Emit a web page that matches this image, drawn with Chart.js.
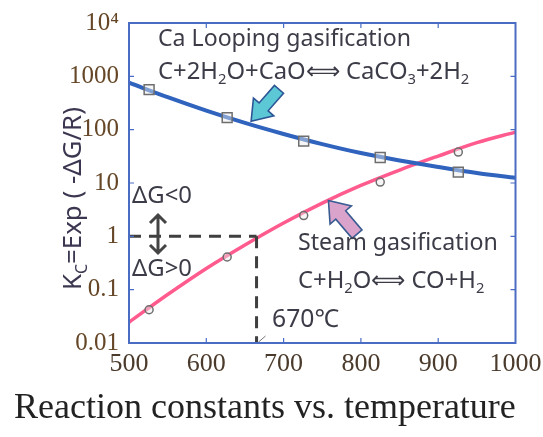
<!DOCTYPE html>
<html>
<head>
<meta charset="utf-8">
<script src="https://cdn.jsdelivr.net/npm/chart.js@4.4.1/dist/chart.umd.min.js"></script>
<style>
  html, body { margin: 0; padding: 0; background: #fff; }
  #wrap { width: 543px; height: 437px; }
</style>
</head>
<body>
<div id="wrap"><canvas id="kc-chart" width="543" height="437"></canvas></div>
<script>
// Temperatures (°C) for the smooth curves
const curveTemps = [500, 550, 600, 650, 700, 750, 800, 850, 900, 950, 1000];
// Ca looping gasification curve, C+2H2O+CaO <-> CaCO3+2H2
const caLoopingCurve = [762, 407, 228, 134, 83, 53.5, 36.4, 26.5, 20, 15.4, 12.5];
// Steam gasification curve, C+H2O <-> CO+H2
const steamCurve = [0.0245, 0.081, 0.25, 0.69, 1.78, 4.2, 9.0, 17.5, 32, 57, 90];

// Calculated points (markers)
const markerTemps = [526, 627, 726, 825, 926];
const caLoopingPoints = [564, 168, 61, 30, 16];
const steamPoints = [0.042, 0.41, 2.45, 10.4, 38];

const xTickValues = [500, 600, 700, 800, 900, 1000];
const yTickValues = [0.01, 0.1, 1, 10, 100, 1000, 10000];

// Equilibrium threshold K = 1 reached at ~670 °C
const thresholdTemp = 665;
const thresholdK = 1;

const toPoints = (xs, ys) => xs.map((x, i) => ({ x, y: ys[i] }));

const FRAME = "#4a6cc2";
const TEXT = "#3c3c48";
const SANS = "'Noto Sans', sans-serif";
const SERIF = "'Liberation Serif', 'Times New Roman', serif";

// Text with subscripts, scaled so that it spans `width` pixels.
function drawRich(ctx, parts, x, baseline, width, family, color) {
  const measure = (size) =>
    parts.reduce((w, p) => {
      ctx.font = `${p.sub ? size * 0.62 : size}px ${family}`;
      return w + ctx.measureText(p.t).width;
    }, 0);
  const size = (20 * width) / measure(20);
  ctx.fillStyle = color;
  ctx.textBaseline = "alphabetic";
  ctx.textAlign = "left";
  let cx = x;
  parts.forEach((p) => {
    const s = p.sub ? size * 0.62 : size;
    ctx.font = `${s}px ${family}`;
    ctx.fillText(p.t, cx, baseline + (p.sub ? size * 0.22 : 0));
    cx += ctx.measureText(p.t).width;
  });
}

function blockArrow(ctx, tip, tail, shaftW, headW, headL, fill, stroke) {
  const angle = Math.atan2(tip[1] - tail[1], tip[0] - tail[0]);
  const len = Math.hypot(tip[0] - tail[0], tip[1] - tail[1]);
  ctx.save();
  ctx.translate(tip[0], tip[1]);
  ctx.rotate(angle);
  ctx.beginPath();
  ctx.moveTo(0, 0);
  ctx.lineTo(-headL, -headW / 2);
  ctx.lineTo(-headL, -shaftW / 2);
  ctx.lineTo(-len, -shaftW / 2);
  ctx.lineTo(-len, shaftW / 2);
  ctx.lineTo(-headL, shaftW / 2);
  ctx.lineTo(-headL, headW / 2);
  ctx.closePath();
  ctx.fillStyle = fill;
  ctx.fill();
  ctx.lineWidth = 1.6;
  ctx.strokeStyle = stroke;
  ctx.lineJoin = "miter";
  ctx.stroke();
  ctx.restore();
}

const decorations = {
  id: "decorations",
  afterDraw(chart) {
    const { ctx, chartArea: a } = chart;
    const xs = chart.scales.x;
    const ys = chart.scales.y;
    ctx.save();

    // threshold dashed lines
    const tx = xs.getPixelForValue(thresholdTemp);
    const ty = ys.getPixelForValue(thresholdK);
    ctx.strokeStyle = "#3f3f3f";
    ctx.lineWidth = 3;
    ctx.setLineDash([12, 8]);
    ctx.beginPath();
    ctx.moveTo(a.left, ty);
    ctx.lineTo(tx, ty);
    ctx.moveTo(tx, ty);
    ctx.lineTo(tx, a.bottom);
    ctx.stroke();
    ctx.setLineDash([]);

    // small mark at the foot of the threshold line
    ctx.lineWidth = 1;
    ctx.strokeStyle = "#777";
    ctx.beginPath();
    ctx.moveTo(tx + 2, a.bottom - 1);
    ctx.lineTo(tx + 9, a.bottom - 7);
    ctx.stroke();

    // frame
    ctx.strokeStyle = FRAME;
    ctx.lineWidth = 2;
    ctx.strokeRect(a.left, a.top, a.width, a.height);

    // inward ticks
    ctx.lineWidth = 1.2;
    ctx.beginPath();
    yTickValues.slice(1, -1).forEach((v) => {
      const py = ys.getPixelForValue(v);
      ctx.moveTo(a.left, py);
      ctx.lineTo(a.left + 5, py);
      ctx.moveTo(a.right, py);
      ctx.lineTo(a.right - 5, py);
    });
    xTickValues.slice(1, -1).forEach((v) => {
      const px = xs.getPixelForValue(v);
      ctx.moveTo(px, a.bottom);
      ctx.lineTo(px, a.bottom - 5);
      ctx.moveTo(px, a.top);
      ctx.lineTo(px, a.top + 5);
    });
    ctx.stroke();

    // block arrows pointing at the curves
    const px = (t, k) => [xs.getPixelForValue(t), ys.getPixelForValue(k)];
    blockArrow(ctx, px(658, 144), px(694, 571), 12, 27, 19, "#5cc8d6", "#2d5596");
    blockArrow(ctx, px(758, 4.7), px(795, 1.1), 13, 28, 19, "#d9a3cc", "#3a5c92");

    // annotations
    drawRich(ctx, [{ t: "Ca Looping gasification" }], 158, 46, 253, SANS, TEXT);
    drawRich(ctx, [
      { t: "C+2H" }, { t: "2", sub: true }, { t: "O+CaO\u27FA CaCO" },
      { t: "3", sub: true }, { t: "+2H" }, { t: "2", sub: true }
    ], 158, 79, 312, SANS, TEXT);
    drawRich(ctx, [{ t: "Steam gasification" }], 298, 250, 200, SANS, TEXT);
    drawRich(ctx, [
      { t: "C+H" }, { t: "2", sub: true }, { t: "O\u27FA CO+H" }, { t: "2", sub: true }
    ], 298, 288, 187, SANS, TEXT);
    drawRich(ctx, [{ t: "670\u2103" }], 272, 327, 67, SANS, TEXT);
    drawRich(ctx, [{ t: "\u0394G<0" }], 132, 203, 60, SANS, TEXT);
    drawRich(ctx, [{ t: "\u0394G>0" }], 132, 276, 60, SANS, TEXT);

    // double-headed arrow between ΔG<0 and ΔG>0
    ctx.strokeStyle = "#444";
    ctx.lineWidth = 3;
    ctx.beginPath();
    ctx.moveTo(158, 215);
    ctx.lineTo(158, 253);
    ctx.moveTo(150, 223);
    ctx.lineTo(158, 215);
    ctx.lineTo(166, 223);
    ctx.moveTo(150, 245);
    ctx.lineTo(158, 253);
    ctx.lineTo(166, 245);
    ctx.stroke();

    // y axis title, rotated
    ctx.save();
    ctx.translate(81, 290);
    ctx.rotate(-Math.PI / 2);
    drawRich(ctx, [{ t: "K" }, { t: "C", sub: true }, { t: "=Exp ( -\u0394G/R)" }],
      0, 0, 183, SANS, "#3c3650");
    ctx.restore();

    // caption
    drawRich(ctx, [{ t: "Reaction constants vs. temperature" }], 14, 418, 502, SERIF, "#222");

    ctx.restore();
  }
};

new Chart(document.getElementById("kc-chart"), {
  type: "line",
  data: {
    datasets: [
      {
        label: "Ca looping points",
        data: toPoints(markerTemps, caLoopingPoints),
        showLine: false,
        pointStyle: "rect",
        pointRadius: 7,
        pointBorderWidth: 1.5,
        pointBorderColor: "#6e6e6e",
        pointBackgroundColor: "rgba(235,235,235,0.45)",
        order: 0
      },
      {
        label: "Steam points",
        data: toPoints(markerTemps, steamPoints),
        showLine: false,
        pointStyle: "circle",
        pointRadius: 4,
        pointBorderWidth: 1.5,
        pointBorderColor: "#6e6e6e",
        pointBackgroundColor: "rgba(235,235,235,0.45)",
        order: 0
      },
      {
        label: "Ca looping gasification",
        data: toPoints(curveTemps, caLoopingCurve),
        borderColor: "#2f63bd",
        borderWidth: 4,
        pointRadius: 0,
        cubicInterpolationMode: "monotone",
        order: 1
      },
      {
        label: "Steam gasification",
        data: toPoints(curveTemps, steamCurve),
        borderColor: "#ff5b8e",
        borderWidth: 3.5,
        pointRadius: 0,
        cubicInterpolationMode: "monotone",
        order: 1
      }
    ]
  },
  options: {
    responsive: false,
    animation: false,
    layout: { padding: { left: 0, right: 27.5, top: 23, bottom: 0 } },
    plugins: {
      legend: { display: false },
      tooltip: { enabled: false }
    },
    scales: {
      x: {
        type: "linear",
        min: 500,
        max: 1000,
        afterBuildTicks: (scale) => {
          scale.ticks = xTickValues.map((value) => ({ value }));
        },
        afterFit: (scale) => {
          scale.height = 94;
          // let the last label overhang the plot instead of shrinking it
          scale.paddingLeft = 0;
          scale.paddingRight = 0;
        },
        grid: { display: false, drawTicks: false },
        border: { display: false },
        ticks: {
          padding: 6,
          color: "#4b3b2c",
          font: { family: SERIF, size: 26 },
          callback: (value) => String(value)
        }
      },
      y: {
        type: "logarithmic",
        min: 0.01,
        max: 10000,
        afterBuildTicks: (scale) => {
          scale.ticks = yTickValues.map((value) => ({ value }));
        },
        afterFit: (scale) => {
          scale.width = 129;
          scale.paddingTop = 0;
          scale.paddingBottom = 0;
        },
        grid: { display: false, drawTicks: false },
        border: { display: false },
        ticks: {
          padding: 10,
          color: "#654728",
          font: { family: SERIF, size: 25 },
          callback: (value) => (value === 10000 ? "10\u2074" : String(value))
        }
      }
    }
  },
  plugins: [decorations]
});
</script>
</body>
</html>
